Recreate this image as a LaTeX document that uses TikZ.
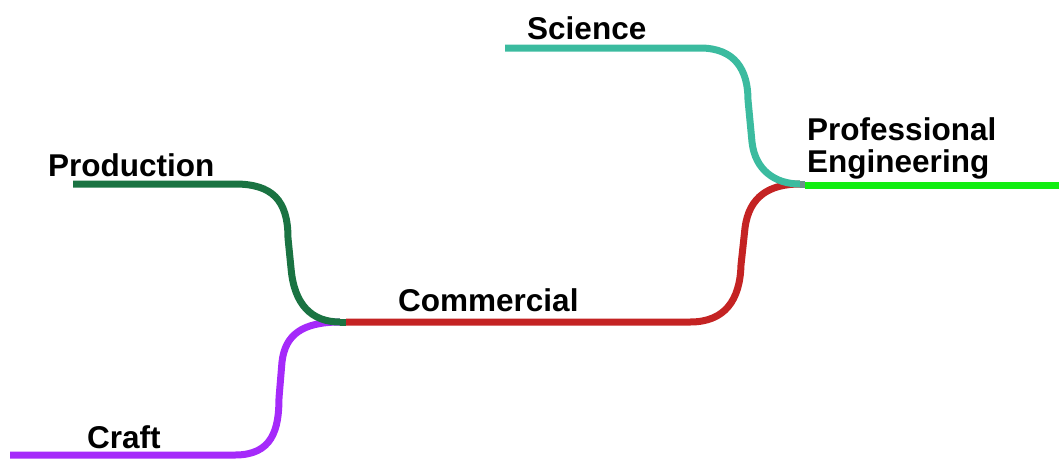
\documentclass[tikz,border=0pt]{standalone}
\usepackage{fontspec}
\setmainfont{Liberation Sans}
\definecolor{craftc}{RGB}{165,42,250}
\definecolor{prodc}{RGB}{26,115,66}
\definecolor{commc}{RGB}{196,35,35}
\definecolor{scic}{RGB}{59,187,159}
\definecolor{proc}{RGB}{17,238,17}
\begin{document}
\begin{tikzpicture}[x=1pt,y=-1pt,
	branch/.style={line width=7pt},
	lbl/.style={font=\fontsize{31.5}{32}\selectfont\bfseries,inner sep=0pt,anchor=base west}]
	\useasboundingbox (0,0) rectangle (1059,459);
	% junctions and free ends
	\coordinate (j1) at (340,322);
	\coordinate (j2) at (800,184);
	\coordinate (craftend) at (10,455);
	\coordinate (prodend) at (73,184);
	\coordinate (sciend) at (505,48);
	\coordinate (proend) at (1059,185);
	% labels
	\node[lbl] (craft) at (87,448) {Craft};
	\node[lbl] (prod) at (48,176) {Production};
	\node[lbl] (comm) at (398,311) {Commercial};
	\node[lbl] (sci) at (527,39) {Science};
	\node[lbl,align=left] (pro) at (807,172) {Professional\\Engineering};
	% branches
	\draw[branch,craftc] (craftend) -- (235,455) .. controls (272,455) and (279,430) .. (279,398)
		-- (282,362) .. controls (285,335) and (302,322) .. (j1);
	\draw[branch,prodc] (prodend) -- (235,184) .. controls (272,184) and (288,200) .. (288,238)
		-- (291,268) .. controls (294,305) and (312,322) .. (j1);
	\draw[branch,prodc] (j1) -- ++(6,0);
	\draw[branch,commc] (346,322) -- (690,322) .. controls (725,322) and (740,300) .. (741,265)
		-- (745,228) .. controls (749,196) and (770,184) .. (j2);
	\draw[branch,scic] (sciend) -- (700,48) .. controls (735,48) and (748,70) .. (748,100)
		-- (752,142) .. controls (755,170) and (775,184) .. (j2);
	\draw[branch,gray!70!scic] (j2) -- ++(5,0);
	\draw[branch,proc] (805,185) -- (proend);
\end{tikzpicture}
\end{document}
